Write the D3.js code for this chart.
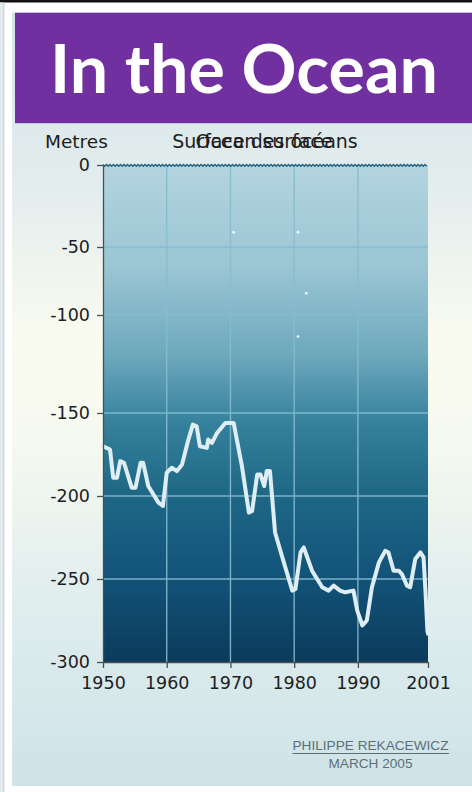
<!DOCTYPE html>
<html><head><meta charset="utf-8">
<script src="https://cdn.jsdelivr.net/npm/d3@7"></script>
<style>
html,body{margin:0;padding:0;background:#fff;overflow:hidden;}
svg{display:block;}
</style></head>
<body>
<script>
// ---- data ----
const title = "In the Ocean";
const yLabel = "Metres";
const chartTitleFr = "Surface des océans";
const chartTitleEn = "Ocean surface";
const credit1 = "PHILIPPE REKACEWICZ";
const credit2 = "MARCH 2005";
const xTicks = [1950, 1960, 1970, 1980, 1990, 2001];
const yTicks = [0, -50, -100, -150, -200, -250, -300];
const years = [1950, 1951.1, 1951.6, 1952.2, 1952.7, 1953.3, 1954.5, 1955.1, 1955.9, 1956.3,
  1957.1, 1958.7, 1959.4, 1960.0, 1960.8, 1961.6, 1962.4, 1963.4, 1964.1, 1964.7,
  1965.2, 1966.3, 1966.5, 1967.1, 1967.9, 1969.2, 1970.0, 1970.5, 1971.8, 1972.9,
  1973.4, 1974.2, 1974.7, 1975.3, 1975.7, 1976.2, 1977.0, 1978.3, 1979.7, 1980.2,
  1981.0, 1981.5, 1982.8, 1984.4, 1985.4, 1986.2, 1987.2, 1988.0, 1989.3, 1989.9,
  1990.7, 1991.4, 1992.2, 1993.3, 1994.3, 1994.8, 1995.6, 1996.4, 1996.9, 1997.7,
  1998.2, 1999.0, 1999.8, 2000.3, 2000.6, 2000.9, 2001];
const depths = [-170, -172, -189, -189, -179, -180, -195, -195, -180, -180,
  -194, -204, -206, -186, -183, -185, -181, -166, -157, -158,
  -170, -171, -166, -168, -162, -156, -156, -156, -182, -210,
  -209, -187, -187, -194, -185, -185, -222, -239, -257, -256,
  -234, -231, -245, -255, -257, -254, -257, -258, -257, -269,
  -278, -275, -255, -240, -233, -234, -245, -245, -247, -254,
  -255, -238, -234, -237, -257, -281, -283];
// small bubbles in the water
const bubbleYears = [1970.5, 1980.6, 1981.9, 1980.6];
const bubbleDepths = [-41, -41, -84, -111];

// ---- layout ----
const W = 472, H = 792;
const svg = d3.select("body").append("svg").attr("width", W).attr("height", H);
const defs = svg.append("defs");

const x = d3.scaleLinear().domain([1950, 2001]).range([103, 428]);
const y = d3.scaleLinear().domain(yTicks).range([165, 247, 315, 413, 496, 579, 662]);

// page background
svg.append("rect").attr("width", W).attr("height", H).attr("fill", "#ffffff");
svg.append("rect").attr("x", 0).attr("y", 0).attr("width", W).attr("height", 2.5).attr("fill", "#111");
svg.append("rect").attr("x", 0).attr("y", 2.5).attr("width", 3.5).attr("height", H).attr("fill", "#e3ebee");
svg.append("line").attr("x1", 3.8).attr("x2", 3.8).attr("y1", 2.5).attr("y2", H).attr("stroke", "#bccace").attr("stroke-width", 1);

// panel gradient
const pg = defs.append("linearGradient").attr("id", "panelGrad").attr("x1", 0).attr("y1", 0).attr("x2", 0).attr("y2", 1);
[[0, "#d3e3e8"], [0.25, "#e6eeee"], [0.42, "#f9fbef"], [0.55, "#f6f9f0"], [0.75, "#e1eeee"], [1, "#cee3e8"]]
  .forEach(([o, c]) => pg.append("stop").attr("offset", o).attr("stop-color", c));
svg.append("rect").attr("x", 12).attr("y", 12.7).attr("width", W - 12).attr("height", 786 - 12.7).attr("fill", "url(#panelGrad)");

// title banner
svg.append("rect").attr("x", 15).attr("y", 12.7).attr("width", W - 15).attr("height", 110.5).attr("fill", "#7030a0");
svg.append("text").attr("x", 50).attr("y", 93).text(title)
  .attr("font-family", "Lato, 'Open Sans', sans-serif").attr("font-weight", 700).attr("font-size", 66)
  .attr("fill", "#ffffff").attr("textLength", 388).attr("lengthAdjust", "spacingAndGlyphs");

// plot gradient
const wg = defs.append("linearGradient").attr("id", "waterGrad").attr("x1", 0).attr("y1", 0).attr("x2", 0).attr("y2", 1);
[[0, "#b2d4df"], [0.2, "#9cc6d4"], [0.38, "#6ea9bd"], [0.52, "#35819c"], [0.66, "#1e6886"], [0.82, "#13547a"], [1, "#0b3b5c"]]
  .forEach(([o, c]) => wg.append("stop").attr("offset", o).attr("stop-color", c));
svg.append("rect").attr("x", x(1950)).attr("y", y(0)).attr("width", x(2001) - x(1950)).attr("height", y(-300) - y(0))
  .attr("fill", "url(#waterGrad)");

// gridlines
const grid = svg.append("g").attr("stroke", "#86bdd1").attr("stroke-width", 1.4).attr("opacity", 0.9);
grid.selectAll("line.v").data(xTicks.slice(1, -1)).join("line")
  .attr("x1", d => x(d)).attr("x2", d => x(d)).attr("y1", y(0)).attr("y2", y(-300));
grid.selectAll("line.h").data(yTicks.slice(1, -1)).join("line")
  .attr("x1", x(1950)).attr("x2", x(2001)).attr("y1", d => y(d)).attr("y2", d => y(d));

// bubbles
svg.selectAll("circle.b").data(d3.zip(bubbleYears, bubbleDepths)).join("circle")
  .attr("cx", d => x(d[0])).attr("cy", d => y(d[1])).attr("r", 1.4).attr("fill", "#eaf6fa");

// wavy surface line at 0
const waveX = d3.range(x(1950), x(2001) + 0.01, 1.75);
const wave = d3.line().x(d => d).y((d, i) => y(0) + (i % 2 ? 1.2 : -0.6));
svg.append("path").attr("d", wave(waveX)).attr("fill", "none").attr("stroke", "#1f5f7c").attr("stroke-width", 1.3);

// data line
const line = d3.line().x(d => x(d[0])).y(d => y(d[1]));
svg.append("path").datum(d3.zip(years, depths)).attr("d", line)
  .attr("fill", "none").attr("stroke", "#deeef4").attr("stroke-width", 4)
  .attr("stroke-linejoin", "round").attr("stroke-linecap", "round");

// axes
const yAxis = svg.append("g").attr("transform", `translate(${x(1950)},0)`)
  .call(d3.axisLeft(y).tickValues(yTicks).tickSize(6).tickSizeOuter(0).tickPadding(7).tickFormat(d3.format("d")));
const xAxis = svg.append("g").attr("transform", `translate(0,${y(-300)})`)
  .call(d3.axisBottom(x).tickValues(xTicks).tickSize(6).tickSizeOuter(0).tickPadding(9).tickFormat(d3.format("d")));
[yAxis, xAxis].forEach(g => {
  g.select(".domain").attr("stroke", "#4a4f52").attr("stroke-width", 1.3);
  g.selectAll(".tick line").attr("stroke", "#4a4f52").attr("stroke-width", 1.3);
  g.selectAll("text").attr("font-family", "'DejaVu Sans', sans-serif").attr("font-size", 17.5).attr("fill", "#1e1e1e");
});
// y tick labels use a hyphen-minus like the source
yAxis.selectAll("text").text(d => String(d));

// labels
svg.append("text").attr("x", 45).attr("y", 148).text(yLabel)
  .attr("font-family", "'DejaVu Sans', sans-serif").attr("font-size", 18.5).attr("fill", "#1e1e1e");
svg.append("text").attr("x", 265).attr("y", 148).attr("text-anchor", "middle").text(chartTitleFr)
  .attr("font-family", "'DejaVu Sans', sans-serif").attr("font-size", 19).attr("fill", "#1e1e1e");
svg.append("text").attr("x", 264).attr("y", 148).attr("text-anchor", "middle").text(chartTitleEn)
  .attr("font-family", "'DejaVu Sans', sans-serif").attr("font-size", 19).attr("fill", "#1e1e1e");

// credit
svg.append("text").attr("x", 292.5).attr("y", 750).text(credit1)
  .attr("font-family", "'Liberation Sans', Arial, sans-serif").attr("font-size", 13.5).attr("fill", "#5d6f76")
  .attr("textLength", 156).attr("lengthAdjust", "spacingAndGlyphs");
svg.append("line").attr("x1", 292.5).attr("x2", 449).attr("y1", 753.5).attr("y2", 753.5).attr("stroke", "#5d6f76").attr("stroke-width", 1);
svg.append("text").attr("x", 370.5).attr("y", 768).attr("text-anchor", "middle").text(credit2)
  .attr("font-family", "'Liberation Sans', Arial, sans-serif").attr("font-size", 13.5).attr("fill", "#5d6f76")
  .attr("textLength", 84).attr("lengthAdjust", "spacingAndGlyphs");
</script>
</body></html>
